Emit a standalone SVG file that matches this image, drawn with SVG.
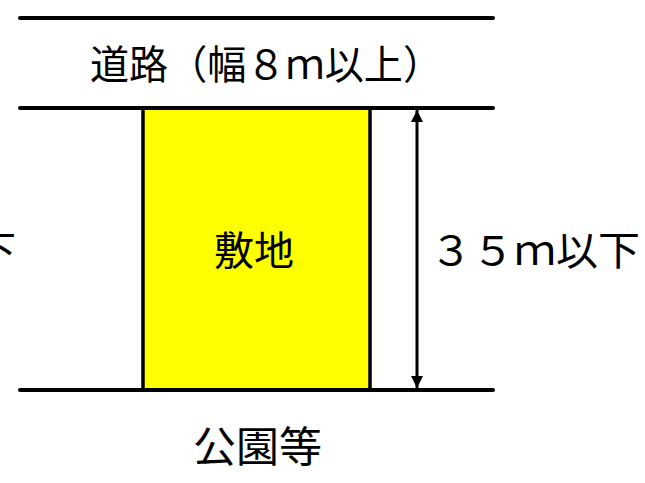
<svg xmlns="http://www.w3.org/2000/svg" width="645" height="483" viewBox="0 0 645 483">
<defs>
<style>
.ln{stroke:#000;stroke-width:4;stroke-linecap:round;fill:none}
.t{font-family:"Noto Sans CJK JP","Noto Sans CJK SC",sans-serif;fill:#000}
</style>
<marker id="ah" viewBox="0 0 10 10" refX="10" refY="5" markerWidth="12" markerHeight="12" markerUnits="userSpaceOnUse" orient="auto-start-reverse">
<path d="M0,0 L10,5 L0,10 z" fill="#000"/>
</marker>
</defs>
<rect width="645" height="483" fill="#fff"/>
<g id="road">
<text class="t" x="90" y="79" font-size="40" textLength="352" lengthAdjust="spacingAndGlyphs">道路（幅８ｍ以上）</text>
</g>
<g id="site">
<rect x="143" y="108" width="227" height="282" fill="#ffff00" stroke="#000" stroke-width="3.5"/>
<text class="t" x="254" y="265" font-size="40" text-anchor="middle">敷地</text>
</g>
<g id="connectors">
<line class="ln" x1="20" y1="18" x2="493" y2="18"/>
<line class="ln" x1="20" y1="108" x2="493" y2="108"/>
<line class="ln" x1="20" y1="390" x2="493" y2="390"/>
<line x1="417" y1="110" x2="417" y2="388" stroke="#000" stroke-width="3" marker-start="url(#ah)" marker-end="url(#ah)"/>
</g>
<g id="dim">
<text class="t" x="430" y="265" font-size="40" textLength="210" lengthAdjust="spacingAndGlyphs">３５ｍ以下</text>
</g>
<g id="left">
<text class="t" x="16" y="265" font-size="40" text-anchor="end">下</text>
</g>
<g id="park">
<text class="t" x="193" y="462" font-size="42" textLength="129" lengthAdjust="spacingAndGlyphs">公園等</text>
</g>
</svg>
